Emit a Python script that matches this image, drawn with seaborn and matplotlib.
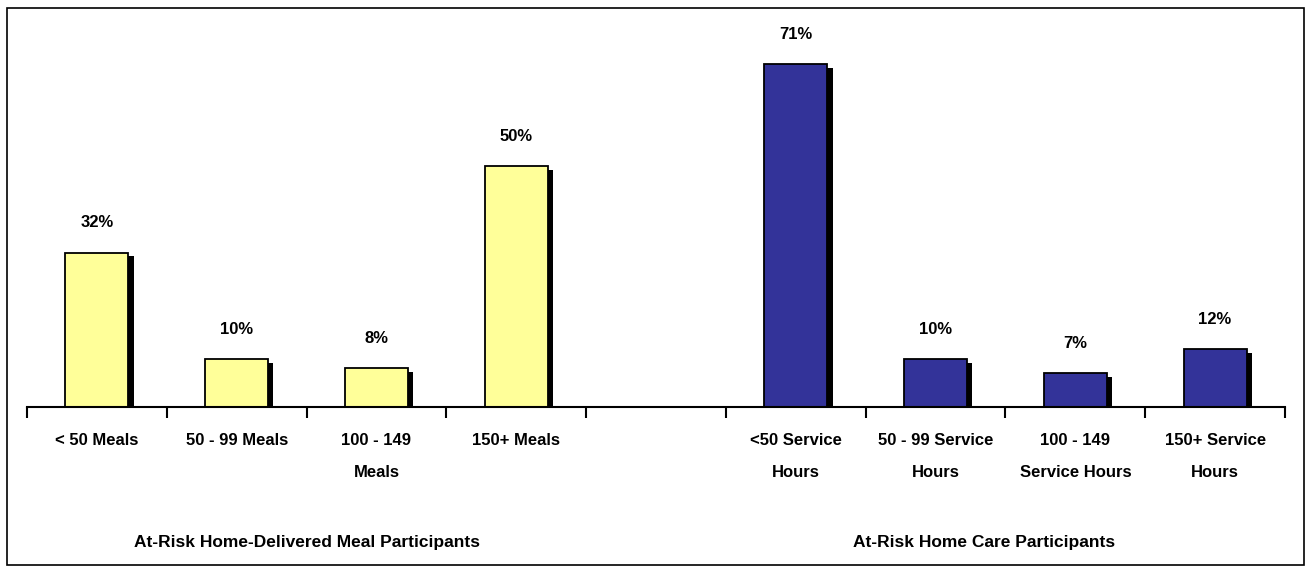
import pandas as pd
import numpy as np
import matplotlib
matplotlib.use("Agg")
import matplotlib.pyplot as plt
import matplotlib.patheffects as pe
from matplotlib.patches import Rectangle
import seaborn as sns

# Data
categories = [
    "< 50 Meals",
    "50 - 99 Meals",
    "100 - 149\nMeals",
    "150+ Meals",
    " ",
    "<50 Service\nHours",
    "50 - 99 Service\nHours",
    "100 - 149\nService Hours",
    "150+ Service\nHours",
]
meal_values = [32, 10, 8, 50]
care_values = [71, 10, 7, 12]
groups = ["At-Risk Home-Delivered Meal Participants", "At-Risk Home Care Participants"]
group_colors = ["#FFFF99", "#333399"]

df = pd.DataFrame(
    {
        "category": categories[:4] + categories[5:],
        "value": meal_values + care_values,
        "group": [groups[0]] * 4 + [groups[1]] * 4,
    }
)

sns.set_style("white")
plt.rcParams["font.family"] = ["Liberation Sans", "DejaVu Sans"]
plt.rcParams["font.weight"] = "bold"
plt.rcParams["text.color"] = "black"
plt.rcParams["xtick.color"] = "black"

fig = plt.figure(figsize=(13.12, 5.73), dpi=100)
ax = fig.add_axes([27 / 1312, 166 / 573, 1258 / 1312, 386 / 573])

sns.barplot(
    data=df,
    x="category",
    y="value",
    hue="group",
    order=categories,
    hue_order=groups,
    palette=group_colors,
    saturation=1,
    dodge=False,
    width=0.45,
    edgecolor="black",
    linewidth=1.3,
    legend=False,
    ax=ax,
)

# drop shadow on each bar
for bar in ax.patches:
    bar.set_path_effects(
        [pe.SimplePatchShadow(offset=(3.8, -2.8), shadow_rgbFace="black", alpha=1.0), pe.Normal()]
    )

for cont in ax.containers:
    ax.bar_label(cont, fmt="%.0f%%", padding=16, fontsize=12, fontweight="bold")

ax.set_xlim(-0.5, len(categories) - 0.5)
ax.set_ylim(0, 80)
ax.set_xlabel("")
ax.set_ylabel("")
ax.set_yticks([])
for s in ["top", "right", "left"]:
    ax.spines[s].set_visible(False)
ax.spines["bottom"].set_linewidth(1.5)
ax.spines["bottom"].set_color("black")

ax.set_xticks(np.arange(len(categories)))
ax.set_xticklabels(categories, fontsize=12, fontweight="bold", linespacing=2.4, va="top")
ax.set_xticks(np.arange(len(categories) + 1) - 0.5, minor=True)
ax.tick_params(axis="x", which="major", bottom=False, length=0, pad=19)
ax.tick_params(axis="x", which="minor", bottom=True, length=8, width=1.5, direction="out", color="black")

# group titles
ax.text(1.5, -0.352, groups[0], transform=ax.get_xaxis_transform(), ha="center", va="center",
        fontsize=12.5, fontweight="bold")
ax.text(6.35, -0.352, groups[1], transform=ax.get_xaxis_transform(), ha="center", va="center",
        fontsize=12.5, fontweight="bold")

# outer border
fig.patches.append(
    Rectangle((7 / 1312, 8 / 573), 1297 / 1312, 557 / 573, transform=fig.transFigure,
              fill=False, edgecolor="black", linewidth=1.2)
)

fig.savefig("out.png", dpi=100)
plt.close(fig)
